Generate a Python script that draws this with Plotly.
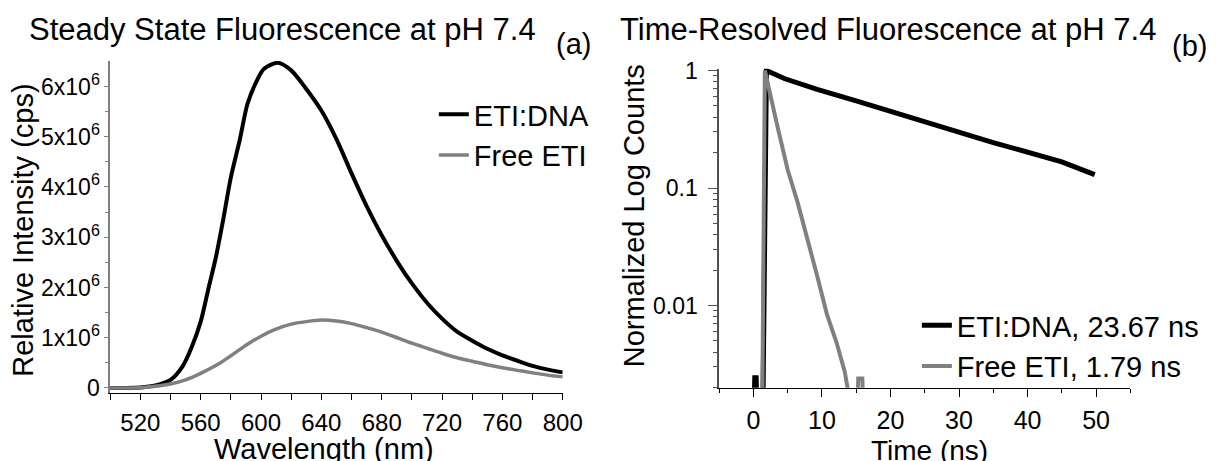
import plotly.graph_objects as go

W, H = 1232, 461
FONT = "Liberation Sans"

# ---- Panel (a): steady-state emission spectra ----
wl_dna = [500, 520, 530, 540, 548, 554, 560, 565, 570, 575, 580, 586, 591, 597, 602, 611,
          620, 630, 640, 650, 660, 670, 680, 691, 700, 711, 720, 730, 740, 750, 760, 772,
          780, 791, 800]
int_dna = [0.0, 0.01, 0.05, 0.16, 0.43, 0.81, 1.32, 1.96, 2.59, 3.36, 4.19, 4.95, 5.65, 6.10,
           6.35, 6.47, 6.32, 5.95, 5.52, 4.95, 4.27, 3.62, 3.04, 2.48, 2.08, 1.66, 1.38, 1.12,
           0.94, 0.78, 0.65, 0.52, 0.44, 0.36, 0.31]  # x 1e6 cps

wl_free = [500, 522, 540, 550, 560, 572, 580, 591, 600, 609, 620, 630, 640, 650, 660, 670,
           680, 691, 700, 711, 720, 730, 740, 750, 760, 772, 780, 791, 800]
int_free = [0.0, 0.01, 0.08, 0.16, 0.29, 0.48, 0.64, 0.87, 1.03, 1.16, 1.27, 1.32, 1.35, 1.33,
            1.28, 1.20, 1.11, 0.99, 0.89, 0.78, 0.69, 0.60, 0.53, 0.46, 0.40, 0.34, 0.30,
            0.25, 0.22]  # x 1e6 cps

ytick_vals_a = [0, 1, 2, 3, 4, 5, 6]
ytick_text_a = ["0", "1x10<sup>6</sup>", "2x10<sup>6</sup>", "3x10<sup>6</sup>",
                "4x10<sup>6</sup>", "5x10<sup>6</sup>", "6x10<sup>6</sup>"]
xtick_vals_a = [520, 560, 600, 640, 680, 720, 760, 800]

# ---- Panel (b): time-resolved decays (normalized counts) ----
t_dna = [0.1, 0.2, 0.4, 0.5, None, 1.4, 1.9, 4.5, 9.3, 15, 25, 35, 45, 49.8]
c_dna = [0.0015, 0.00243, 0.00243, 0.0015, None, 0.0015, 1.0, 0.855, 0.69, 0.551, 0.366,
         0.244, 0.167, 0.13]

t_free = [1.3, 1.67, 3.57, 5.0, 6.43, 7.86, 9.29, 10.71, 12.14, 13.33, 14.1, None,
          15.2, 15.3, 15.9, 16.0]
c_free = [0.0015, 1.0, 0.323, 0.143, 0.0762, 0.0383, 0.018, 0.0085, 0.00482, 0.00274, 0.0015,
          None, 0.0015, 0.0024, 0.0024, 0.0015]

ytick_vals_b = [0.01, 0.1, 1]
ytick_text_b = ["0.01", "0.1", "1"]
xtick_vals_b = [0, 10, 20, 30, 40, 50]

BLACK = "#000000"
GRAY = "#808080"


def px_x(x):
    return x / W


def px_y(y):
    return 1 - y / H


fig = go.Figure()
fig.add_trace(go.Scatter(x=wl_dna, y=[v * 1e6 for v in int_dna], mode="lines",
                         name="ETI:DNA", line=dict(color=BLACK, width=4, shape="spline", smoothing=0.8),
                         xaxis="x", yaxis="y", legend="legend"))
fig.add_trace(go.Scatter(x=wl_free, y=[v * 1e6 for v in int_free], mode="lines",
                         name="Free ETI", line=dict(color=GRAY, width=3.5, shape="spline", smoothing=0.8),
                         xaxis="x", yaxis="y", legend="legend"))
fig.add_trace(go.Scatter(x=t_dna, y=c_dna, mode="lines", name="ETI:DNA, 23.67 ns",
                         line=dict(color=BLACK, width=5), connectgaps=False,
                         xaxis="x2", yaxis="y2", legend="legend2"))
fig.add_trace(go.Scatter(x=t_free, y=c_free, mode="lines", name="Free ETI, 1.79 ns",
                         line=dict(color=GRAY, width=4), connectgaps=False,
                         xaxis="x2", yaxis="y2", legend="legend2"))

fig.update_layout(
    width=W, height=H,
    margin=dict(l=0, r=0, t=0, b=0),
    paper_bgcolor="white", plot_bgcolor="white",
    font=dict(family=FONT, color="black"),
    xaxis=dict(domain=[px_x(112), px_x(572)], range=[500, 800], anchor="y",
               showline=True, linecolor="black", linewidth=1, mirror=False,
               showgrid=False, zeroline=False,
               tickmode="array", tickvals=xtick_vals_a, ticks="outside", ticklen=6,
               tickcolor="black", tickfont=dict(family=FONT, size=24),
               ticklabelstandoff=2,
               minor=dict(tickmode="array", tickvals=[500, 540, 580, 620, 660, 700, 740, 780],
                          ticks="outside", ticklen=6, tickcolor="black")),
    yaxis=dict(domain=[px_y(398), px_y(52)], range=[-0.11e6, 6.507e6], anchor="x",
               showline=True, linecolor=GRAY, linewidth=1.5,
               showgrid=False, zeroline=False,
               tickmode="array", tickvals=[v * 1e6 for v in ytick_vals_a], ticktext=ytick_text_a,
               ticks="outside", ticklen=4, tickcolor=GRAY, tickfont=dict(family=FONT, size=23),
               minor=dict(tickmode="array", tickvals=[v * 1e6 for v in [0.5, 1.5, 2.5, 3.5, 4.5, 5.5]],
                          ticks="outside", ticklen=3, tickcolor=GRAY)),
    xaxis2=dict(domain=[px_x(731), px_x(1149)], range=[-5, 55], anchor="y2",
                showline=True, linecolor="black", linewidth=1,
                showgrid=False, zeroline=False,
                tickmode="array", tickvals=xtick_vals_b, ticks="outside", ticklen=8,
                tickcolor="black", tickfont=dict(family=FONT, size=25),
                ticklabelstandoff=2,
                minor=dict(tickmode="array", tickvals=[-5, 5, 15, 25, 35, 45, 55],
                           ticks="outside", ticklen=4, tickcolor="black")),
    yaxis2=dict(domain=[px_y(392), px_y(60)], type="log", range=[-2.699, 0.016], anchor="x2",
                showline=True, linecolor="#505050", linewidth=1.5,
                showgrid=False, zeroline=False,
                tickmode="array", tickvals=ytick_vals_b, ticktext=ytick_text_b,
                ticks="outside", ticklen=9, tickcolor="#505050",
                tickfont=dict(family=FONT, size=23), ticklabelstandoff=6,
                minor=dict(tickmode="array",
                           tickvals=[m * d for d in (0.001, 0.01, 0.1) for m in range(2, 10)],
                           ticks="outside", ticklen=4, tickcolor="#505050")),
    legend=dict(x=px_x(441), xanchor="left", y=px_y(129), yanchor="middle",
                bgcolor="rgba(0,0,0,0)", borderwidth=0,
                font=dict(family=FONT, size=29, color="black"), tracegroupgap=0),
    legend2=dict(x=px_x(932), xanchor="left", y=px_y(348.5), yanchor="middle",
                 bgcolor="rgba(0,0,0,0)", borderwidth=0,
                 font=dict(family=FONT, size=29, color="black"), tracegroupgap=0),
    showlegend=True,
)

ann = [
    ("Steady State Fluorescence at pH 7.4", 287, 19, 31, 0),
    ("(a)", 582.5, 34, 29, 0),
    ("Time-Resolved Fluorescence at pH 7.4", 902.5, 19, 31, 0),
    ("(b)", 1209, 36, 29, 0),
    ("Wavelength (nm)", 329, 456, 29, 0),
    ("Time (ns)", 945, 457, 28, 0),
    ("Relative Intensity (cps)", 23, 228, 29, -90),
    ("Normalized Log Counts", 644, 213, 29, -90),
]
for text, x, y, size, ang in ann:
    fig.add_annotation(text=text, x=px_x(x), y=px_y(y), xref="paper", yref="paper",
                       xanchor="center", yanchor="middle", showarrow=False,
                       textangle=ang, font=dict(family=FONT, size=size, color="black"))

fig.write_html("out.html")
